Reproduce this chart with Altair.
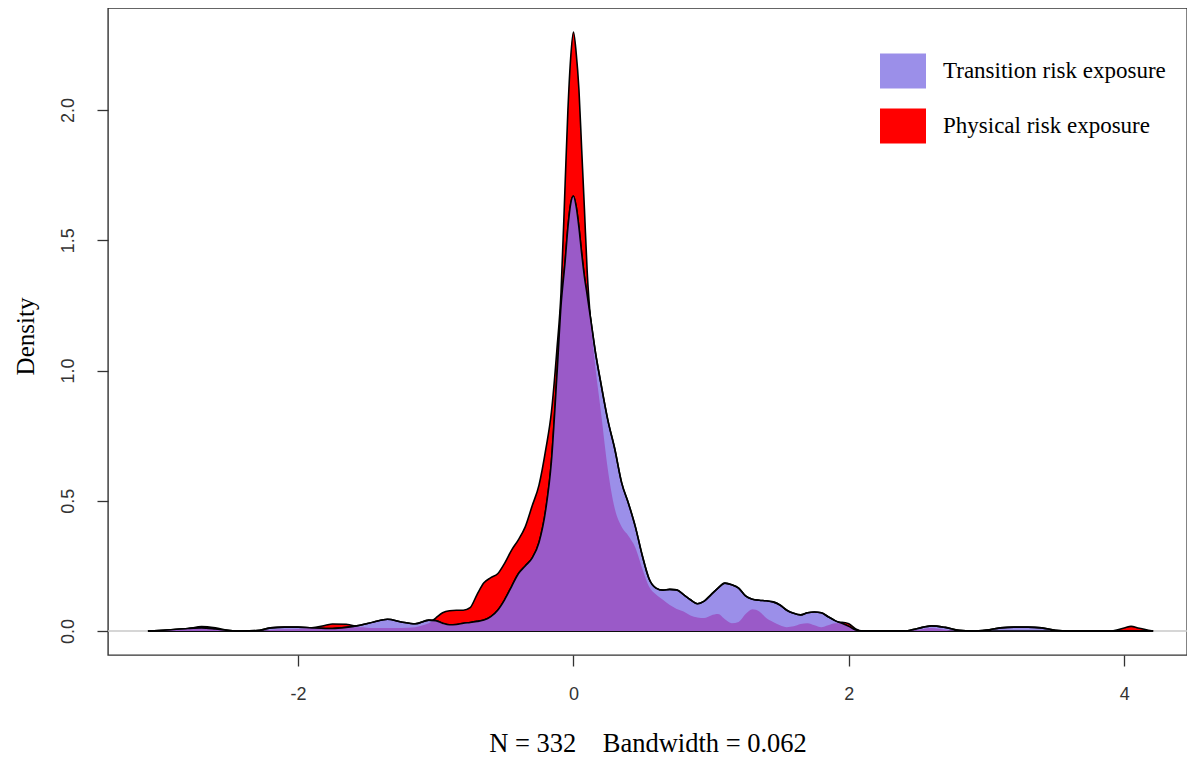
import altair as alt
import pandas as pd
import numpy as np

# common x grid
x_grid = [-3.09, -2.95, -2.8, -2.7, -2.6, -2.5, -2.4, -2.3, -2.2, -2.1, -2.0, -1.9, -1.8, -1.75,
          -1.65, -1.55, -1.45, -1.35, -1.25, -1.15, -1.05, -1.0, -0.95, -0.9, -0.85, -0.8, -0.75,
          -0.7, -0.65, -0.6, -0.55, -0.5, -0.45, -0.4, -0.35, -0.3, -0.25, -0.2, -0.16, -0.12,
          -0.09, -0.06, -0.04, -0.02, 0.0, 0.02, 0.04, 0.06, 0.08, 0.10, 0.13, 0.16, 0.2, 0.25,
          0.3, 0.35, 0.4, 0.45, 0.5, 0.55, 0.6, 0.65, 0.7, 0.75, 0.8, 0.85, 0.9, 0.95, 1.0, 1.05,
          1.1, 1.15, 1.2, 1.25, 1.3, 1.35, 1.4, 1.45, 1.5, 1.55, 1.6, 1.65, 1.7, 1.75, 1.8, 1.85,
          1.9, 1.95, 2.0, 2.05, 2.1, 2.2, 2.3, 2.4, 2.5, 2.6, 2.7, 2.8, 2.9, 3.0, 3.1, 3.2, 3.3,
          3.4, 3.5, 3.6, 3.7, 3.8, 3.9, 4.0, 4.05, 4.1, 4.21]

physical = [0, 0.003, 0.008, 0.017, 0.012, 0.002, 0, 0, 0.004, 0.007, 0.008, 0.012, 0.022, 0.027,
            0.026, 0.015, 0.012, 0.012, 0.012, 0.015, 0.03, 0.05, 0.07, 0.078, 0.08, 0.08, 0.09,
            0.14, 0.185, 0.205, 0.22, 0.26, 0.31, 0.35, 0.40, 0.48, 0.56, 0.70, 0.84, 1.08,
            1.30, 1.72, 2.00, 2.20, 2.30, 2.22, 2.08, 1.85, 1.62, 1.38, 1.16, 1.01, 0.84, 0.62,
            0.47, 0.40, 0.365, 0.32, 0.24, 0.17, 0.14, 0.12, 0.10, 0.085, 0.075, 0.06, 0.052, 0.05,
            0.06, 0.065, 0.045, 0.03, 0.035, 0.065, 0.084, 0.075, 0.05, 0.035, 0.022, 0.015, 0.018,
            0.027, 0.03, 0.022, 0.015, 0.022, 0.03, 0.034, 0.028, 0.008, 0, 0, 0, 0, 0.004, 0.012,
            0.005, 0, 0, 0, 0, 0, 0, 0, 0, 0, 0, 0, 0, 0.012, 0.018, 0.012, 0]

transition = [0, 0.004, 0.01, 0.012, 0.008, 0.002, 0, 0.002, 0.012, 0.015, 0.015, 0.012, 0.010, 0.010,
              0.014, 0.022, 0.035, 0.045, 0.035, 0.028, 0.042, 0.04, 0.03, 0.024, 0.025, 0.03, 0.033,
              0.037, 0.042, 0.055, 0.08, 0.12, 0.17, 0.22, 0.25, 0.28, 0.34, 0.47, 0.65, 0.98,
              1.25, 1.42, 1.55, 1.64, 1.67, 1.63, 1.55, 1.45, 1.36, 1.29, 1.18, 1.07, 0.95, 0.81,
              0.70, 0.57, 0.49, 0.40, 0.29, 0.20, 0.165, 0.157, 0.16, 0.158, 0.14, 0.12, 0.105, 0.115,
              0.14, 0.165, 0.184, 0.178, 0.165, 0.135, 0.122, 0.118, 0.116, 0.112, 0.10, 0.08, 0.068,
              0.062, 0.07, 0.073, 0.07, 0.055, 0.04, 0.03, 0.018, 0.004, 0, 0, 0, 0, 0.01, 0.02,
              0.014, 0.003, 0, 0.004, 0.012, 0.015, 0.015, 0.012, 0.003, 0, 0, 0, 0, 0, 0, 0, 0]

T = "Transition risk exposure"
P = "Physical risk exposure"
O = "Overlap"

overlap = np.minimum(np.array(physical), np.array(transition))

df = pd.concat([
    pd.DataFrame({"x": x_grid, "y": physical, "series": P}),
    pd.DataFrame({"x": x_grid, "y": transition, "series": T}),
    pd.DataFrame({"x": x_grid, "y": overlap, "series": O}),
], ignore_index=True)

tick_font = "Liberation Sans"
serif = "Liberation Serif"

x_enc = alt.X("x:Q",
              scale=alt.Scale(domain=[-3.38, 4.456], nice=False, zero=False),
              axis=alt.Axis(values=[-2, 0, 2, 4],
                            labelExpr="datum.value < 0 ? '-' + abs(datum.value) : '' + datum.value",
                            title="N = 332\u00a0\u00a0\u00a0 Bandwidth = 0.062",
                            titleFont=serif, titleFontSize=26.5, titleFontWeight="normal",
                            titleColor="black", titleY=88, titleBaseline="middle",
                            labelPadding=19))
y_enc = alt.Y("y:Q", stack=False,
              scale=alt.Scale(domain=[-0.092, 2.392], nice=False, zero=False),
              axis=alt.Axis(values=[0, 0.5, 1.0, 1.5, 2.0], format=".1f",
                            title="Density", titleFont=serif, titleFontSize=25,
                            titleFontWeight="normal", titleColor="black",
                            titleAngle=270, titleX=-83, titleY=328,
                            titleAlign="center", titleBaseline="middle",
                            labelAngle=270, labelAlign="center", labelBaseline="bottom",
                            labelPadding=20))
color_enc = alt.Color("series:N", title=None,
                      scale=alt.Scale(domain=[T, P, O], range=["#9b8fe9", "#ff0000", "#9a5ac8"]),
                      legend=alt.Legend(values=[T, P]))

base = alt.Chart(df)

zero_rule = alt.Chart(pd.DataFrame({"y": [0.0]})).mark_rule(
    color="#c8c8c8", strokeWidth=1.5).encode(y="y:Q")

red_area = base.transform_filter(alt.datum.series == P).mark_area(
    stroke="black", strokeWidth=1.6, interpolate="monotone").encode(x=x_enc, y=y_enc, color=color_enc)
blue_area = base.transform_filter(alt.datum.series == T).mark_area(
    stroke="black", strokeWidth=1.6, interpolate="monotone").encode(x=x_enc, y=y_enc, color=color_enc)
over_area = base.transform_filter(alt.datum.series == O).mark_area(
    interpolate="monotone").encode(x=x_enc, y=y_enc, color=color_enc)
blue_line = base.transform_filter(alt.datum.series == T).mark_line(
    color="black", strokeWidth=1.6, interpolate="monotone").encode(x=x_enc, y=y_enc)

chart = alt.layer(zero_rule, red_area, blue_area, over_area, blue_line).properties(
    width=1079, height=647,
    padding={"left": 100, "top": 0, "right": 0, "bottom": 104},
    autosize=alt.AutoSizeParams(type="none"),
).configure_view(
    stroke="#333333", strokeWidth=1.4
).configure_axis(
    grid=False, domain=False, tickSize=11, tickColor="#333333", tickWidth=1.3,
    labelFont=tick_font, labelFontSize=18, labelColor="#333333"
).configure_legend(
    orient="none", legendX=772, legendY=40,
    symbolType="M-1,-0.76H1V0.76H-1Z", symbolSize=2116,
    symbolStrokeWidth=0, symbolOpacity=1,
    labelFont=serif, labelFontSize=23, labelColor="black", labelOffset=17,
    rowPadding=14, labelLimit=400
)

chart.save("out.html", embed_options={"renderer": "svg", "actions": False})
